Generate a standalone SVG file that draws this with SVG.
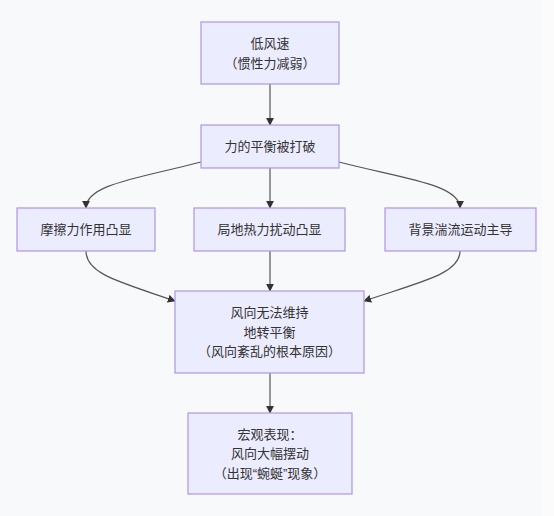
<svg xmlns="http://www.w3.org/2000/svg" width="554" height="516" viewBox="0 0 554 516">
<style>
.n rect{fill:#ECECFF;stroke:#B49CE8;stroke-width:1.3}
.n text{font-family:"Liberation Sans","Noto Sans CJK SC",sans-serif;font-size:13px;fill:#333;text-anchor:middle}
.e path{fill:none;stroke:#555;stroke-width:1.2}
</style>
<defs>
<marker id="ah" viewBox="0 0 10 10" refX="9" refY="5" markerWidth="8" markerHeight="8" markerUnits="userSpaceOnUse" orient="auto">
<path d="M0,0 L10,5 L0,10 z" fill="#333"/>
</marker>
</defs>
<rect width="554" height="516" fill="#F8F9FB"/>
<rect x="542" width="12" height="516" fill="#FBFBFC"/>
<g class="e">
<path d="M270,84 L270,125" marker-end="url(#ah)"/>
<path d="M201,162 C140,178 86,184 86,208" marker-end="url(#ah)"/>
<path d="M270,168 L270,208" marker-end="url(#ah)"/>
<path d="M339,162 C400,178 460,184 460,208" marker-end="url(#ah)"/>
<path d="M86,251 C86,274 120,282 175,301" marker-end="url(#ah)"/>
<path d="M270,251 L270,291" marker-end="url(#ah)"/>
<path d="M460,251 C460,274 420,282 364,301" marker-end="url(#ah)"/>
<path d="M270,373 L270,413" marker-end="url(#ah)"/>
</g>
<g id="n1" class="n"><rect x="201" y="22" width="138" height="62"/><text x="270" y="48">低风速</text><text x="270" y="68">（惯性力减弱）</text></g>
<g id="n2" class="n"><rect x="201" y="125" width="138" height="43"/><text x="270" y="151">力的平衡被打破</text></g>
<g id="n3" class="n"><rect x="17" y="208" width="138" height="43"/><text x="86" y="234">摩擦力作用凸显</text></g>
<g id="n4" class="n"><rect x="194" y="208" width="151" height="43"/><text x="269.5" y="234">局地热力扰动凸显</text></g>
<g id="n5" class="n"><rect x="385" y="208" width="151" height="43"/><text x="460.5" y="234">背景湍流运动主导</text></g>
<g id="n6" class="n"><rect x="175" y="291" width="189" height="82"/><text x="269.5" y="317">风向无法维持</text><text x="269.5" y="337">地转平衡</text><text x="269.5" y="356">（风向紊乱的根本原因）</text></g>
<g id="n7" class="n"><rect x="188" y="413" width="164" height="81"/><text x="270" y="439">宏观表现：</text><text x="270" y="458">风向大幅摆动</text><text x="270" y="478">（出现“蜿蜒”现象）</text></g>
</svg>
